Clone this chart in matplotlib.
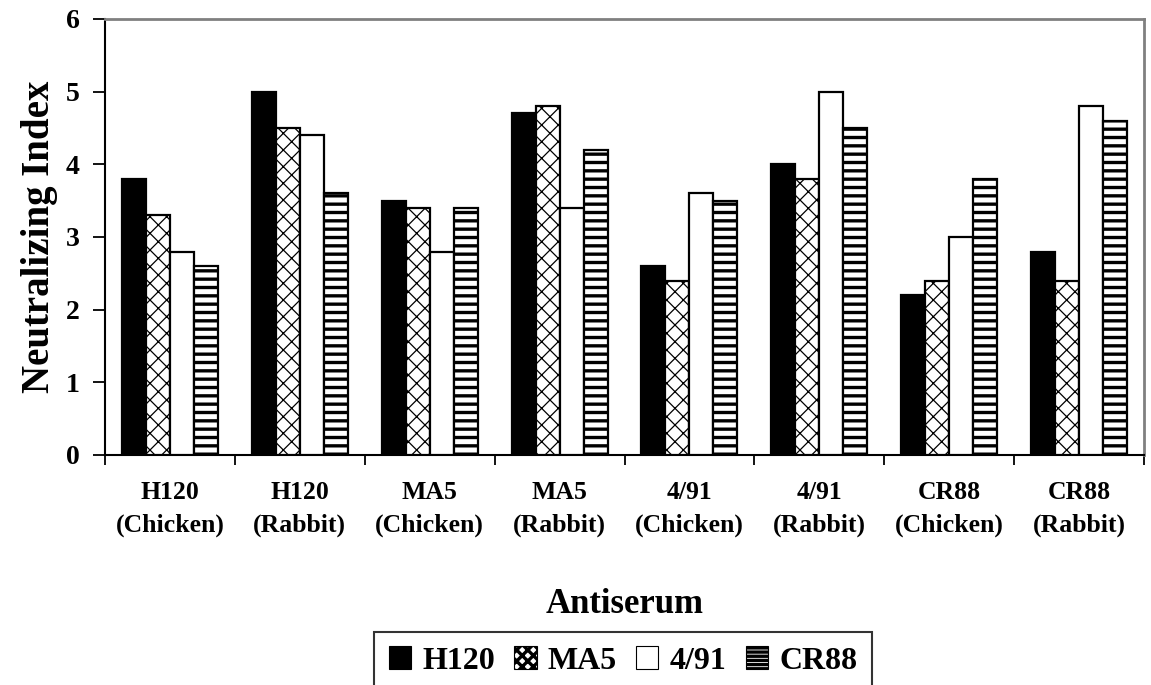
import matplotlib
matplotlib.use("Agg")
import matplotlib.pyplot as plt
import numpy as np
from matplotlib.patches import Patch

categories = ["H120\n(Chicken)", "H120\n(Rabbit)", "MA5\n(Chicken)", "MA5\n(Rabbit)",
              "4/91\n(Chicken)", "4/91\n(Rabbit)", "CR88\n(Chicken)", "CR88\n(Rabbit)"]
series_names = ["H120", "MA5", "4/91", "CR88"]
h120 = [3.8, 5.0, 3.5, 4.7, 2.6, 4.0, 2.2, 2.8]
ma5 = [3.3, 4.5, 3.4, 4.8, 2.4, 3.8, 2.4, 2.4]
v491 = [2.8, 4.4, 2.8, 3.4, 3.6, 5.0, 3.0, 4.8]
cr88 = [2.6, 3.6, 3.4, 4.2, 3.5, 4.5, 3.8, 4.6]
yticks = [0, 1, 2, 3, 4, 5, 6]

plt.rcParams['font.family'] = ['Liberation Serif', 'DejaVu Serif']
plt.rcParams['font.weight'] = 'bold'

fig = plt.figure(figsize=(11.51, 6.85), dpi=100)
ax = fig.add_axes([105/1151, 1-455/685, (1144-105)/1151, (455-19)/685])

x = np.arange(len(categories))
w = 0.185
styles = [
    dict(facecolor='black', hatch=None, hlw=1.0),
    dict(facecolor='white', hatch='xx', hlw=0.9),
    dict(facecolor='white', hatch=None, hlw=1.0),
    dict(facecolor='white', hatch='--', hlw=2.4),
]
data = [h120, ma5, v491, cr88]
handles = []
for i, (vals, st, name) in enumerate(zip(data, styles, series_names)):
    plt.rcParams['hatch.linewidth'] = st['hlw']
    bars = ax.bar(x + (i - 1.5) * w, vals, width=w, facecolor=st['facecolor'],
                  edgecolor='black', linewidth=1.6, hatch=st['hatch'], zorder=3)
    for b in bars:
        try:
            b.set_hatch_linewidth(st['hlw'])
        except Exception:
            pass
    hp = Patch(facecolor=st['facecolor'], edgecolor='black', linewidth=0.8,
               hatch=('xxx' if st['hatch'] == 'xx' else ('----' if st['hatch'] else None)),
               label=name)
    try:
        hp.set_hatch_linewidth(0.6)
    except Exception:
        pass
    handles.append(hp)

ax.set_xlim(-0.5, len(categories) - 0.5)
ax.set_ylim(0, 6)
ax.set_yticks(yticks)
ax.set_yticklabels([str(t) for t in yticks], fontsize=20, fontweight='bold')
ax.set_xticks(np.arange(len(categories) + 1) - 0.5, minor=False)
ax.set_xticklabels([''] * (len(categories) + 1))
ax.set_xticks(x, minor=True)
ax.set_xticklabels(categories, minor=True, fontsize=18.5, fontweight='bold', linespacing=1.5)
ax.tick_params(axis='x', which='minor', length=0, pad=19)
ax.tick_params(axis='x', which='major', direction='out', length=7, width=1.3)
ax.tick_params(axis='y', direction='out', length=9, width=1.3, pad=9)

for side in ['left', 'bottom']:
    ax.spines[side].set_linewidth(1.5)
    ax.spines[side].set_color('black')
for side in ['top', 'right']:
    ax.spines[side].set_linewidth(2)
    ax.spines[side].set_color('#808080')

ax.set_ylabel('Neutralizing Index', fontsize=28, fontweight='bold', labelpad=6)
ax.set_xlabel('Antiserum', fontsize=25, fontweight='bold', labelpad=37)

leg = fig.legend(handles=handles, loc='upper center', bbox_to_anchor=(623/1151, 1-632/685),
                 ncol=4, frameon=True, fancybox=False,
                 handlelength=0.7, handleheight=0.7, handletextpad=0.35,
                 columnspacing=0.6, borderpad=0.45, borderaxespad=0,
                 prop={'weight': 'bold', 'size': 23})
leg.get_frame().set_edgecolor('black')
leg.get_frame().set_linewidth(1.5)

fig.savefig('out.png', dpi=100)
